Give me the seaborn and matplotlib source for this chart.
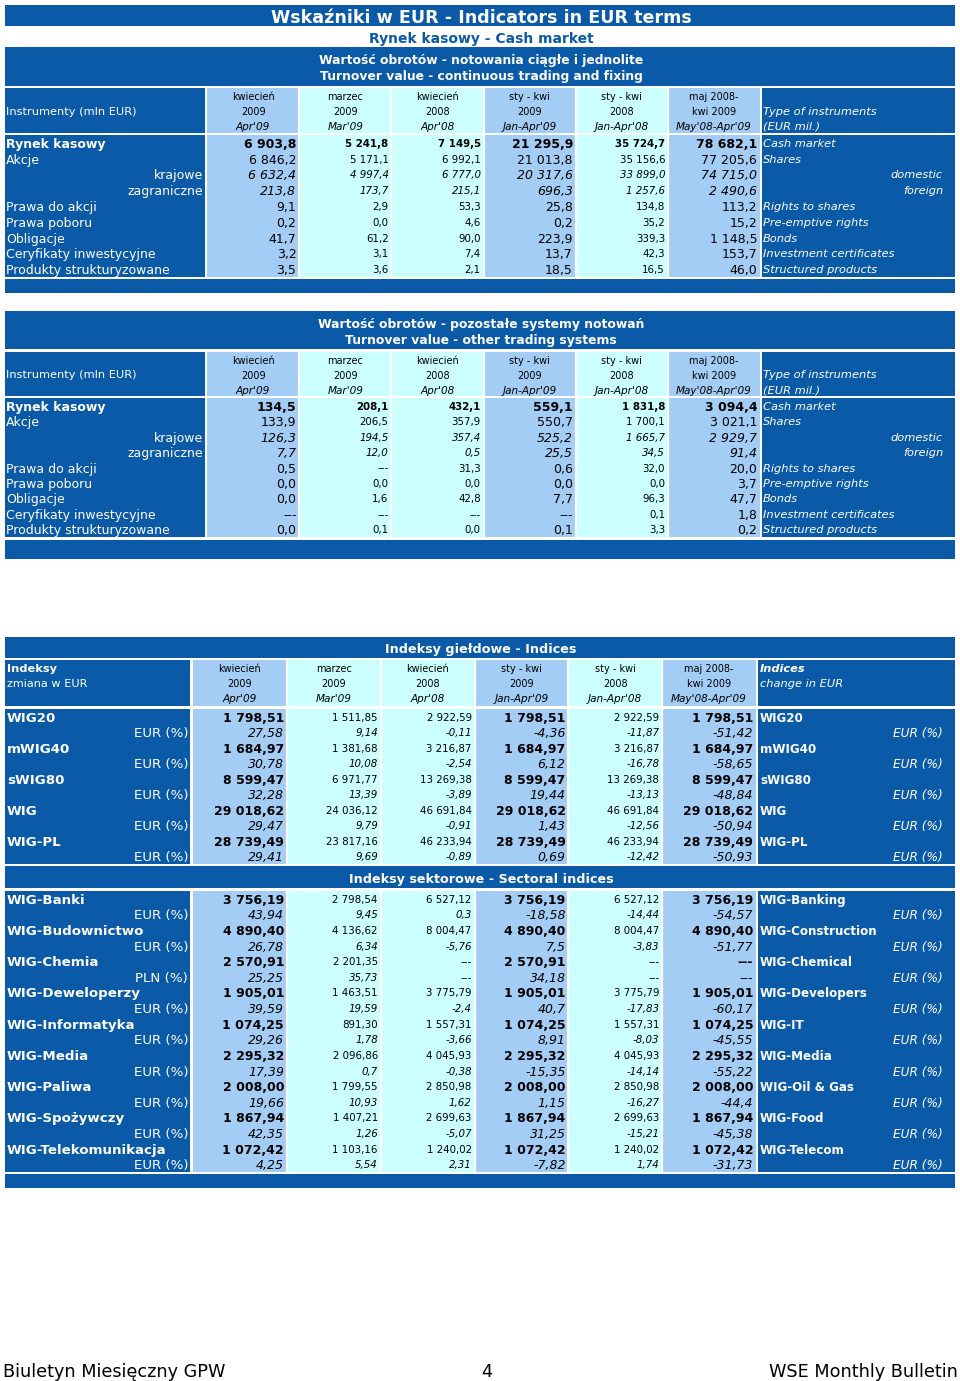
import numpy as np
import matplotlib
matplotlib.use("Agg")
import matplotlib.pyplot as plt
from matplotlib.colors import ListedColormap
from matplotlib.patches import Rectangle
import seaborn as sns

NA = np.nan

# column headers
period_month = ["kwiecień", "marzec", "kwiecień", "sty - kwi", "sty - kwi", "maj 2008-"]
period_year = ["2009", "2009", "2008", "2009", "2008", "kwi 2009"]
period_en = ["Apr'09", "Mar'09", "Apr'08", "Jan-Apr'09", "Jan-Apr'08", "May'08-Apr'09"]

# turnover tables
instr_pl = ["Rynek kasowy", "Akcje", "krajowe", "zagraniczne", "Prawa do akcji",
            "Prawa poboru", "Obligacje", "Ceryfikaty inwestycyjne", "Produkty strukturyzowane"]
instr_en = ["Cash market", "Shares", "domestic", "foreign", "Rights to shares",
            "Pre-emptive rights", "Bonds", "Investment certificates", "Structured products"]

cont_turnover = [
    [6903.8, 5241.8, 7149.5, 21295.9, 35724.7, 78682.1],
    [6846.2, 5171.1, 6992.1, 21013.8, 35156.6, 77205.6],
    [6632.4, 4997.4, 6777.0, 20317.6, 33899.0, 74715.0],
    [213.8, 173.7, 215.1, 696.3, 1257.6, 2490.6],
    [9.1, 2.9, 53.3, 25.8, 134.8, 113.2],
    [0.2, 0.0, 4.6, 0.2, 35.2, 15.2],
    [41.7, 61.2, 90.0, 223.9, 339.3, 1148.5],
    [3.2, 3.1, 7.4, 13.7, 42.3, 153.7],
    [3.5, 3.6, 2.1, 18.5, 16.5, 46.0],
]
other_turnover = [
    [134.5, 208.1, 432.1, 559.1, 1831.8, 3094.4],
    [133.9, 206.5, 357.9, 550.7, 1700.1, 3021.1],
    [126.3, 194.5, 357.4, 525.2, 1665.7, 2929.7],
    [7.7, 12.0, 0.5, 25.5, 34.5, 91.4],
    [0.5, NA, 31.3, 0.6, 32.0, 20.0],
    [0.0, 0.0, 0.0, 0.0, 0.0, 3.7],
    [0.0, 1.6, 42.8, 7.7, 96.3, 47.7],
    [NA, NA, NA, NA, 0.1, 1.8],
    [0.0, 0.1, 0.0, 0.1, 3.3, 0.2],
]

# main indices
index_names = ["WIG20", "mWIG40", "sWIG80", "WIG", "WIG-PL"]
index_level = [
    [1798.51, 1511.85, 2922.59, 1798.51, 2922.59, 1798.51],
    [1684.97, 1381.68, 3216.87, 1684.97, 3216.87, 1684.97],
    [8599.47, 6971.77, 13269.38, 8599.47, 13269.38, 8599.47],
    [29018.62, 24036.12, 46691.84, 29018.62, 46691.84, 29018.62],
    [28739.49, 23817.16, 46233.94, 28739.49, 46233.94, 28739.49],
]
index_change = [
    [27.58, 9.14, -0.11, -4.36, -11.87, -51.42],
    [30.78, 10.08, -2.54, 6.12, -16.78, -58.65],
    [32.28, 13.39, -3.89, 19.44, -13.13, -48.84],
    [29.47, 9.79, -0.91, 1.43, -12.56, -50.94],
    [29.41, 9.69, -0.89, 0.69, -12.42, -50.93],
]

# sectoral indices
sector_pl = ["WIG-Banki", "WIG-Budownictwo", "WIG-Chemia", "WIG-Deweloperzy", "WIG-Informatyka",
             "WIG-Media", "WIG-Paliwa", "WIG-Spożywczy", "WIG-Telekomunikacja"]
sector_en = ["WIG-Banking", "WIG-Construction", "WIG-Chemical", "WIG-Developers", "WIG-IT",
             "WIG-Media", "WIG-Oil & Gas", "WIG-Food", "WIG-Telecom"]
sector_cur = ["EUR", "EUR", "PLN", "EUR", "EUR", "EUR", "EUR", "EUR", "EUR"]
sector_level = [
    [3756.19, 2798.54, 6527.12, 3756.19, 6527.12, 3756.19],
    [4890.40, 4136.62, 8004.47, 4890.40, 8004.47, 4890.40],
    [2570.91, 2201.35, NA, 2570.91, NA, NA],
    [1905.01, 1463.51, 3775.79, 1905.01, 3775.79, 1905.01],
    [1074.25, 891.30, 1557.31, 1074.25, 1557.31, 1074.25],
    [2295.32, 2096.86, 4045.93, 2295.32, 4045.93, 2295.32],
    [2008.00, 1799.55, 2850.98, 2008.00, 2850.98, 2008.00],
    [1867.94, 1407.21, 2699.63, 1867.94, 2699.63, 1867.94],
    [1072.42, 1103.16, 1240.02, 1072.42, 1240.02, 1072.42],
]
sector_change = [
    [43.94, 9.45, 0.3, -18.58, -14.44, -54.57],
    [26.78, 6.34, -5.76, 7.5, -3.83, -51.77],
    [25.25, 35.73, NA, 34.18, NA, NA],
    [39.59, 19.59, -2.4, 40.7, -17.83, -60.17],
    [29.26, 1.78, -3.66, 8.91, -8.03, -45.55],
    [17.39, 0.7, -0.38, -15.35, -14.14, -55.22],
    [19.66, 10.93, 1.62, 1.15, -16.27, -44.4],
    [42.35, 1.26, -5.07, 31.25, -15.21, -45.38],
    [4.25, 5.54, 2.31, -7.82, 1.74, -31.73],
]

col_shade = [1, 0, 0, 1, 0, 1]

DARK = "#0a5aa8"
LBLUE = "#a4cdf6"
CYAN = "#ccffff"
W, H = 960, 1381

sns.set_style("white")
plt.rcParams["font.family"] = ["DejaVu Sans"]

BIG, SMALL = 9.0, 7.4
LEFT, RIGHT = 9.0, 8.2      # row labels, left / right side
HEAD, HEAD_IT = 7.0, 7.6    # column headers
SECTION = 9.0


def fmt(v, dec):
    if np.isnan(v):
        return "---"
    return f"{v:,.{dec}f}".replace(",", " ").replace(".", ",")


def fmt_pct(v):
    if np.isnan(v):
        return "---"
    return f"{v:.2f}".rstrip("0").rstrip(".").replace(".", ",")


fig = plt.figure(figsize=(9.6, 13.81), dpi=100)
ax = fig.add_axes([0, 0, 1, 1])
ax.set_xlim(0, W)
ax.set_ylim(H, 0)
ax.axis("off")


def box(x0, y0, x1, y1, color=DARK):
    ax.add_patch(Rectangle((x0, y0), x1 - x0, y1 - y0, color=color, lw=0))


def shaded(x0, y0, x1, y1, nrows):
    hax = fig.add_axes([x0 / W, 1 - y1 / H, (x1 - x0) / W, (y1 - y0) / H])
    sns.heatmap(np.tile(col_shade, (nrows, 1)), cmap=ListedColormap([CYAN, LBLUE]),
                vmin=0, vmax=1, cbar=False, xticklabels=False, yticklabels=False, ax=hax)
    hax.vlines(np.arange(1, 6), 0, nrows, color="white", lw=1.6)
    return hax


def header(x0, x1, y0, y1, lx1, rx0):
    box(5, y0, lx1, y1)
    box(rx0, y0, 955, y1)
    hax = shaded(x0, y0, x1, y1, 1)
    h = y1 - y0
    for j in range(6):
        for k, txt in enumerate([period_month[j], period_year[j], period_en[j]]):
            yy = (8 + 15 * k) / h
            hax.text(j + 0.5, yy, txt, ha="center", va="center_baseline",
                     fontsize=HEAD_IT if k == 2 else HEAD,
                     style="italic" if k == 2 else "normal", color="black")
    return (y0 + y1) / 2


def turnover_table(pos, titles, values):
    ty0, ty1 = pos["title"]
    box(5, ty0, 955, ty1)
    for k, t in enumerate(titles):
        ax.text(481, ty0 + 12 + 16 * k, t, ha="center", va="center_baseline",
                fontsize=8.9, fontweight="bold", color="white")
    hy0, hy1 = pos["head"]
    yc = header(207, 760, hy0, hy1, 205, 762)
    ax.text(6, yc, "Instrumenty (mln EUR)", ha="left", va="center_baseline",
            fontsize=8.2, color="white")
    ax.text(763, yc, "Type of instruments", ha="left", va="center_baseline",
            fontsize=8.2, style="italic", color="white")
    ax.text(763, yc + 15, "(EUR mil.)", ha="left", va="center_baseline",
            fontsize=8.2, style="italic", color="white")

    by0, by1 = pos["body"]
    box(5, by0, 205, by1)
    box(762, by0, 955, by1)
    n = len(values)
    hax = shaded(207, by0, 760, by1, n)
    rh = (by1 - by0) / n
    for i in range(n):
        y = by0 + (i + 0.5) * rh
        sub = i in (2, 3)
        if sub:
            ax.text(203, y, instr_pl[i], ha="right", va="center_baseline", fontsize=LEFT, color="white")
            ax.text(943, y, instr_en[i], ha="right", va="center_baseline", fontsize=RIGHT,
                    style="italic", color="white")
        else:
            ax.text(6, y, instr_pl[i], ha="left", va="center_baseline", fontsize=LEFT,
                    fontweight="bold" if i == 0 else "normal", color="white")
            ax.text(763, y, instr_en[i], ha="left", va="center_baseline", fontsize=RIGHT,
                    style="italic", color="white")
        for j in range(6):
            big = col_shade[j] == 1
            hax.text(j + 0.97, i + 0.5, fmt(values[i][j], 1), ha="right", va="center_baseline",
                     fontsize=BIG if big else SMALL, fontweight="bold" if i == 0 else "normal",
                     style="italic" if sub else "normal", color="black")
    fy0, fy1 = pos["foot"]
    box(5, fy0, 955, fy1)


def index_rows(hax, by0, rh, names_pl, names_en, cur, level, change):
    for r in range(len(level)):
        y = by0 + (2 * r + 0.5) * rh
        ax.text(7, y, names_pl[r], ha="left", va="center_baseline", fontsize=9.6,
                fontweight="bold", color="white")
        ax.text(760, y, names_en[r], ha="left", va="center_baseline", fontsize=8.6,
                fontweight="bold", color="white")
        ax.text(188, y + rh, f"{cur[r]} (%)", ha="right", va="center_baseline",
                fontsize=9.6, color="white")
        ax.text(943, y + rh, "EUR (%)", ha="right", va="center_baseline",
                fontsize=8.7, style="italic", color="white")
        for j in range(6):
            big = col_shade[j] == 1
            hax.text(j + 0.97, 2 * r + 0.5, fmt(level[r][j], 2), ha="right", va="center_baseline",
                     fontsize=BIG if big else SMALL, fontweight="bold" if big else "normal",
                     color="black")
            hax.text(j + 0.97, 2 * r + 1.5, fmt_pct(change[r][j]), ha="right", va="center_baseline",
                     fontsize=BIG if big else SMALL, style="italic", color="black")


# page title
box(5, 5, 955, 26)
ax.text(481, 16, "Wskaźniki w EUR - Indicators in EUR terms", ha="center", va="center_baseline",
        fontsize=12.6, fontweight="bold", color="white")
ax.text(481, 37, "Rynek kasowy - Cash market", ha="center", va="center_baseline",
        fontsize=10, fontweight="bold", color=DARK)

turnover_table({"title": (47, 86), "head": (88, 133), "body": (135, 277), "foot": (279, 293)},
               ["Wartość obrotów - notowania ciągłe i jednolite",
                "Turnover value - continuous trading and fixing"], cont_turnover)
turnover_table({"title": (311, 349), "head": (352, 396), "body": (398, 537), "foot": (540, 559)},
               ["Wartość obrotów - pozostałe systemy notowań",
                "Turnover value - other trading systems"], other_turnover)

# indices
box(5, 637, 955, 658)
ax.text(481, 648, "Indeksy giełdowe - Indices", ha="center", va="center_baseline",
        fontsize=9.2, fontweight="bold", color="white")
yc = header(193, 756, 660, 706, 190, 758)
ax.text(7, yc - 15, "Indeksy", ha="left", va="center_baseline", fontsize=8.2,
        fontweight="bold", color="white")
ax.text(7, yc, "zmiana w EUR", ha="left", va="center_baseline", fontsize=8.1, color="white")
ax.text(760, yc - 15, "Indices", ha="left", va="center_baseline", fontsize=8.2,
        fontweight="bold", style="italic", color="white")
ax.text(760, yc, "change in EUR", ha="left", va="center_baseline", fontsize=8.2,
        style="italic", color="white")

box(5, 709, 190, 864)
box(758, 709, 955, 864)
hax = shaded(193, 709, 756, 864, 2 * len(index_level))
index_rows(hax, 709, (864 - 709) / (2 * len(index_level)), index_names, index_names,
           ["EUR"] * len(index_names), index_level, index_change)

box(5, 866, 955, 888)
ax.text(481, 878, "Indeksy sektorowe - Sectoral indices", ha="center", va="center_baseline",
        fontsize=9.2, fontweight="bold", color="white")
box(5, 891, 190, 1172)
box(758, 891, 955, 1172)
hax = shaded(193, 891, 756, 1172, 2 * len(sector_level))
index_rows(hax, 891, (1172 - 891) / (2 * len(sector_level)), sector_pl, sector_en,
           sector_cur, sector_level, sector_change)
box(5, 1174, 955, 1188)

# footer
ax.text(3, 1370, "Biuletyn Miesięczny GPW", ha="left", va="center_baseline", fontsize=12.7, color="black")
ax.text(487, 1370, "4", ha="center", va="center_baseline", fontsize=12.7, color="black")
ax.text(958, 1370, "WSE Monthly Bulletin", ha="right", va="center_baseline", fontsize=12.7, color="black")

fig.savefig("out.png", dpi=100, facecolor="white")
